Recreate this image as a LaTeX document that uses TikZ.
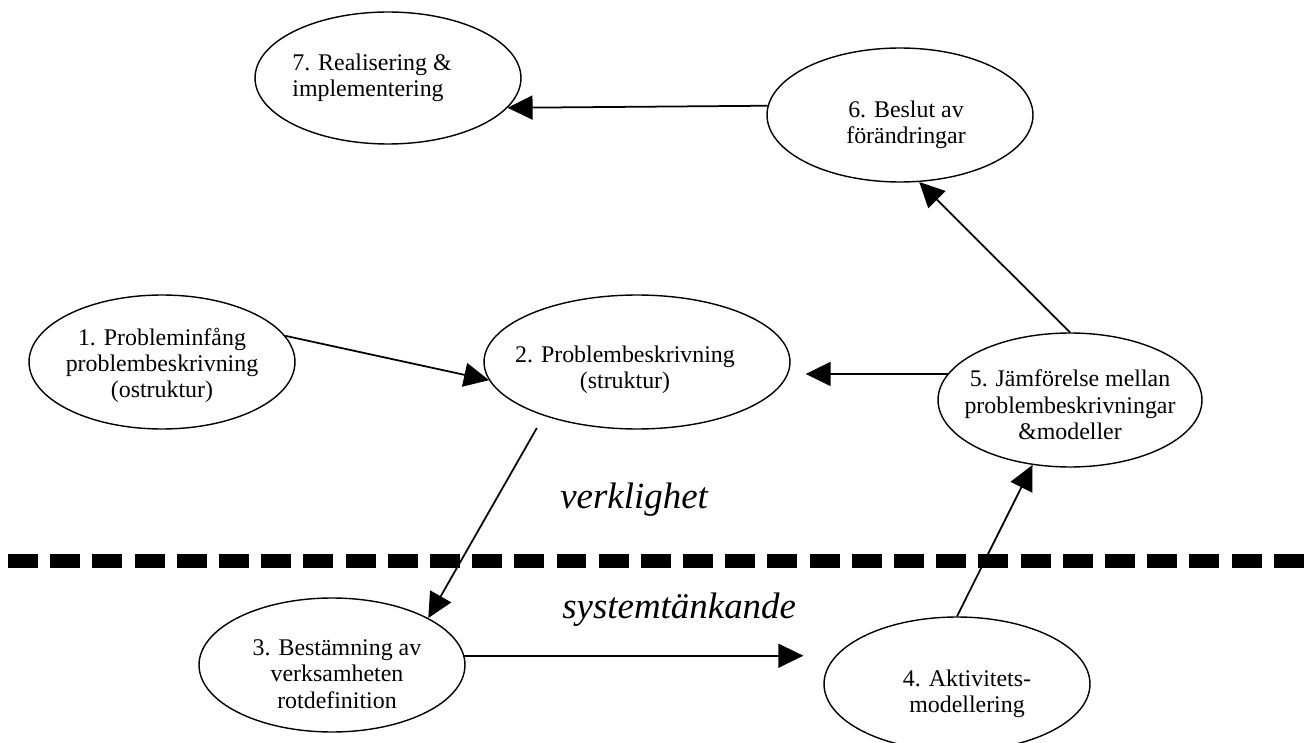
\documentclass[tikz,border=0pt]{standalone}
\usepackage{fontspec}
\setmainfont{Liberation Serif}
\usetikzlibrary{arrows.meta,shapes.geometric,positioning}

\begin{document}
\begin{tikzpicture}[x=0.02cm,y=-0.02cm,>={Triangle[length=0.5cm,width=0.48cm]},
	every node/.style={font=\fontsize{13.6}{15}\selectfont},
	stage/.style={draw,ellipse,line width=0.8pt,inner sep=0pt,minimum width=5.32cm,minimum height=2.68cm},
	flow/.style={line width=1pt},
	realm/.style={font=\fontsize{21}{24}\selectfont\itshape,inner sep=0pt,anchor=base west}]

	\useasboundingbox (0,0) rectangle (1306,743);

	\node [stage, label={[align=center,yshift=-0.07cm]center:1. Probleminfång\\problembeskrivning\\(ostruktur)}]	at (162,362)	(e1)	{};
	\node [stage, minimum width=6.12cm, label={[align=center,xshift=-0.24cm,yshift=-0.16cm]center:2. Problembeskrivning\\(struktur)}]	at (637,362)	(e2)	{};
	\node [stage, label={[align=center,xshift=0.1cm,yshift=-0.18cm]center:3. Bestämning av\\verksamheten\\rotdefinition}]	at (332,665)	(e3)	{};
	\node [stage, label={[align=center,xshift=0.2cm,yshift=-0.19cm]center:4. Aktivitets-\\modellering}]	at (957,684)	(e4)	{};
	\node [stage, minimum width=5.28cm, label={[align=center,yshift=-0.1cm]center:5. Jämförelse mellan\\problembeskrivningar\\\&modeller}]	at (1070,400)	(e5)	{};
	\node [stage, label={[align=center,xshift=0.12cm,yshift=-0.2cm]center:6. Beslut av\\förändringar}]	at (900,115)	(e6)	{};
	\node [stage, minimum height=2.64cm, label={[align=left,xshift=-0.32cm]center:7. Realisering \&\\implementering}]	at (388,78)	(e7)	{};

	\node [realm] at (560,508)	(real)	{verklighet};
	\node [realm] at (562,618)	(syst)	{systemtänkande};

	% gränsen mellan verklighet och systemtänkande
	\draw [line width=0.28cm, dash pattern=on 0.6cm off 0.244cm] (8,561) -- (1306,561);

	\path [->, flow]	(e1.12)		edge								(e2.187)
				(e2.210)	edge [shorten <=0.28cm]		(e3.26)
				(e3.4)		edge [shorten >=0.4cm]		(e3.4 -| e4.west)
				(e4.north)	edge								(e5.240)
				(e5.north)	edge								(e6.-74)
				(e5.168)	edge [shorten >=0.3cm]		(e5.168 -| e2.east)
				(e6.176)	edge								(e7.-14);

\end{tikzpicture}
\end{document}
